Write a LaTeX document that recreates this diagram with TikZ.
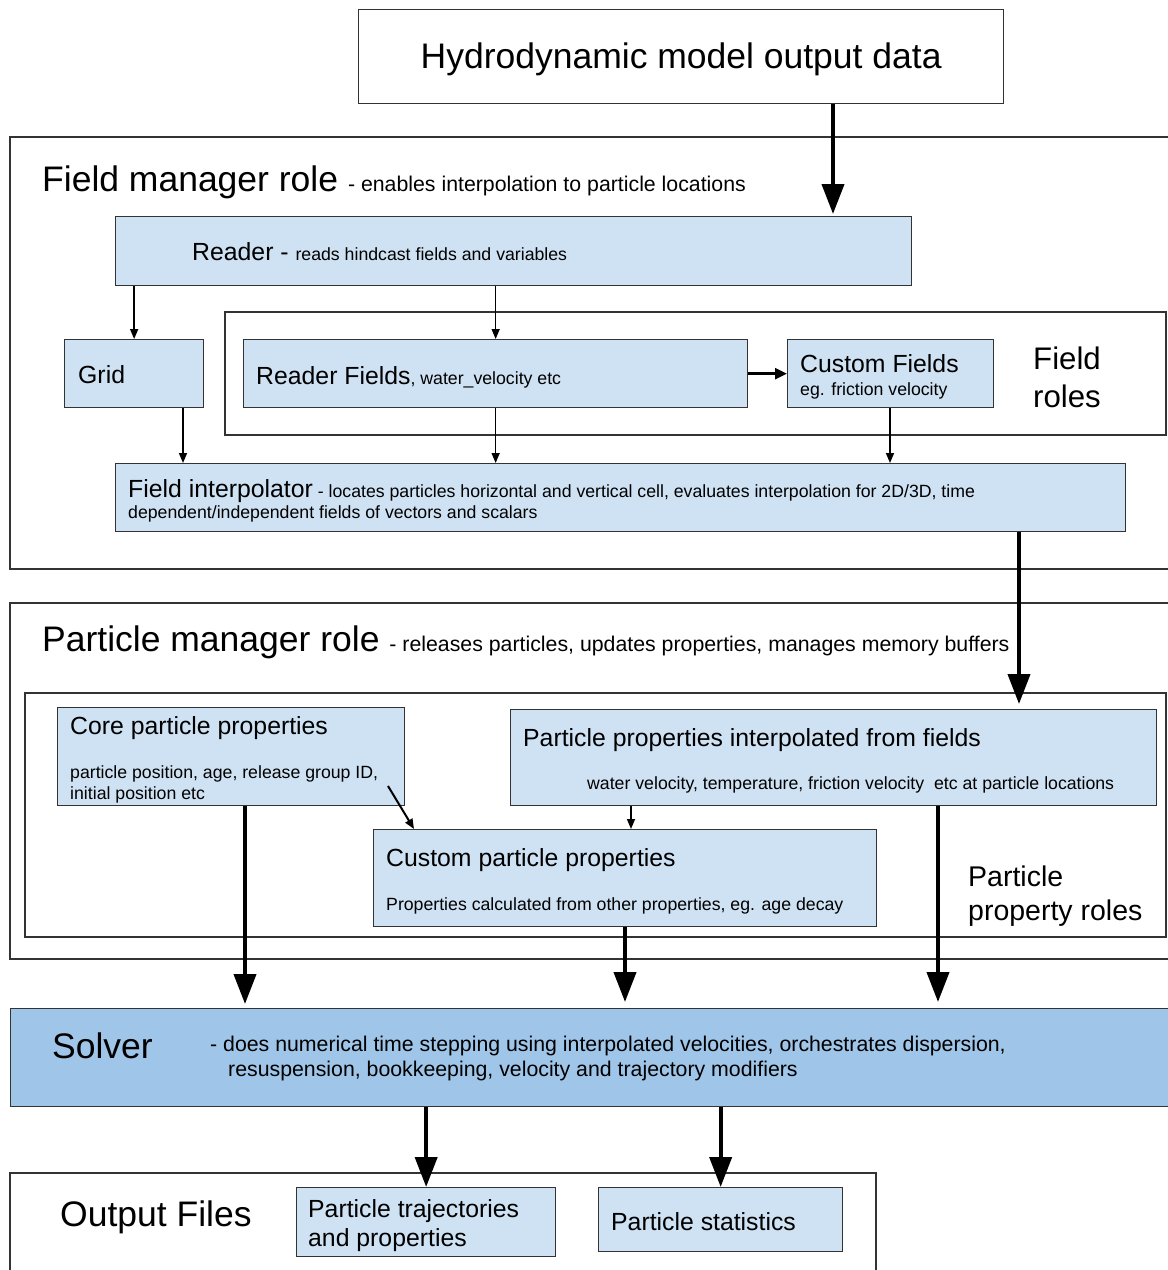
\documentclass[tikz,border=0pt]{standalone}
\usepackage{fontspec}
\setmainfont{Liberation Sans}
\usetikzlibrary{arrows.meta}

\definecolor{boxblue}{HTML}{CFE2F3}
\definecolor{solverblue}{HTML}{9FC5E8}
\definecolor{edgegray}{HTML}{333333}

\newcommand{\fbig}{\fontsize{35.5}{40}\selectfont}
\newcommand{\froles}{\fontsize{31.2}{36}\selectfont}
\newcommand{\fprop}{\fontsize{28.5}{33}\selectfont}
\newcommand{\fmid}{\fontsize{24.8}{29}\selectfont}
\newcommand{\fsub}{\fontsize{21.3}{25}\selectfont}
\newcommand{\ftiny}{\fontsize{17.7}{21}\selectfont}

\tikzset{
  box/.style={draw=edgegray, line width=1.3pt, fill=boxblue, anchor=north west, inner sep=0pt},
  frame/.style={draw=edgegray, line width=1.3pt},
  txt/.style={anchor=base west, inner sep=0pt},
  heavy/.style={line width=4pt, -{Triangle[length=30pt,width=22pt]}},
  light/.style={line width=1.5pt, -{Triangle[length=10pt,width=8pt]}},
  medium/.style={line width=2.5pt, -{Triangle[length=12pt,width=11pt]}},
}

\begin{document}
\begin{tikzpicture}[x=1pt,y=-1pt]
\useasboundingbox (0,0) rectangle (1168,1270);

% Outer role frames
\draw[frame] (1168,137) -- (10,137) -- (10,569) -- (1168,569);
\draw[frame] (225,312) rectangle (1166,435);
\draw[frame] (1168,603) -- (10,603) -- (10,959) -- (1168,959);
\draw[frame] (25,693) rectangle (1166,937);
\draw[frame] (10,1270) -- (10,1173) -- (876,1173) -- (876,1270);

% Input data
\node[box, fill=white, minimum width=645pt, minimum height=94pt] (hydro) at (358,9) {};
\node[font=\fbig, yshift=-3pt] (hydrotxt) at (hydro.center) {Hydrodynamic model output data};

% Field manager
\node[txt] (fmtitle) at (42,191) {\fbig Field manager role {\fsub - enables interpolation to particle locations}};
\node[box, minimum width=796pt, minimum height=69pt] (reader) at (115,216) {};
\node[txt] (readertxt) at (192,260) {\fmid Reader - {\ftiny reads hindcast fields and variables}};
\node[box, minimum width=139pt, minimum height=68pt] (grid) at (64,339) {};
\node[txt] (gridtxt) at (78,383) {\fmid Grid};
\node[box, minimum width=504pt, minimum height=68pt] (rfields) at (243,339) {};
\node[txt] (rfieldstxt) at (256,384) {\fmid Reader Fields{\ftiny , water\_velocity etc}};
\node[box, minimum width=206pt, minimum height=68pt] (cfields) at (787,339) {};
\node[txt] (cfieldstxt) at (800,372) {\fmid Custom Fields};
\node[txt] (cfieldssub) at (800,395) {\ftiny eg. friction velocity};
\node[txt] (froles1) at (1033,369) {\froles Field};
\node[txt] (froles2) at (1033,407) {\froles roles};
\node[box, minimum width=1010pt, minimum height=68pt] (interp) at (115,463) {};
\node[txt] (interptxt) at (128,497) {\fmid Field interpolator{\ftiny\ - locates particles horizontal and vertical cell, evaluates interpolation for 2D/3D, time}};
\node[txt] (interpsub) at (128,518) {\ftiny dependent/independent fields of vectors and scalars};

% Particle manager
\node[txt] (pmtitle) at (42,651) {\fbig Particle manager role {\fsub - releases particles, updates properties, manages memory buffers}};
\node[box, minimum width=347pt, minimum height=98pt] (core) at (57,707) {};
\node[txt] (coretxt) at (70,734) {\fmid Core particle properties};
\node[txt] (coresub1) at (70,778) {\ftiny particle position, age, release group ID,};
\node[txt] (coresub2) at (70,799) {\ftiny initial position etc};
\node[box, minimum width=646pt, minimum height=96pt] (ppi) at (510,709) {};
\node[txt] (ppitxt) at (523,746) {\fmid Particle properties interpolated from fields};
\node[txt] (ppisub) at (587,789) {\ftiny water velocity, temperature, friction velocity\ \ etc at particle locations};
\node[box, minimum width=503pt, minimum height=97pt] (cpp) at (373,829) {};
\node[txt] (cpptxt) at (386,866) {\fmid Custom particle properties};
\node[txt] (cppsub) at (386,910) {\ftiny Properties calculated from other properties, eg. age decay};
\node[txt] (proles1) at (968,886) {\fprop Particle};
\node[txt] (proles2) at (968,920) {\fprop property roles};

% Solver
\node[box, fill=solverblue, minimum width=1158pt, minimum height=98pt] (solver) at (10,1008) {};
\node[txt] (solvertxt) at (52,1058) {\fbig Solver};
\node[txt] (solversub1) at (210,1051) {\fsub - does numerical time stepping using interpolated velocities, orchestrates dispersion,};
\node[txt] (solversub2) at (228,1076) {\fsub resuspension, bookkeeping, velocity and trajectory modifiers};

% Output files
\node[txt] (outtxt) at (60,1226) {\fbig Output Files};
\node[box, minimum width=259pt, minimum height=69pt] (traj) at (296,1187) {};
\node[txt] (trajtxt1) at (308,1217) {\fmid Particle trajectories};
\node[txt] (trajtxt2) at (308,1246) {\fmid and properties};
\node[box, minimum width=244pt, minimum height=64pt] (stats) at (598,1187) {};
\node[txt] (statstxt) at (611,1230) {\fmid Particle statistics};

% Arrow columns
\coordinate (c1) at (833,0);
\coordinate (c2) at (183,0);
\coordinate (c3) at (1019,0);
\coordinate (c4) at (245,0);
\coordinate (c5) at (625,0);
\coordinate (c6) at (938,0);
\coordinate (c7) at (631,0);
\coordinate (c8) at (890,0);
\coordinate (corefrom) at (388,786);
\coordinate (cppto) at (414,829);

% Connectors
\draw[heavy, shorten >=2pt] (hydro.south -| c1) -- (reader.north -| c1);
\draw[light] (reader.south -| grid.north) -- (grid.north);
\draw[light] (reader.south -| rfields.north) -- (rfields.north);
\draw[medium] (rfields.east) -- (cfields.west);
\draw[light] (grid.south -| c2) -- (interp.north -| c2);
\draw[light] (rfields.south) -- (interp.north -| rfields.south);
\draw[light] (cfields.south -| c8) -- (interp.north -| c8);
\draw[heavy, shorten >=5pt] (interp.south -| c3) -- (ppi.north -| c3);
\draw[light, line width=2pt] (corefrom) -- (cppto);
\draw[light] (ppi.south -| c7) -- (cpp.north -| c7);
\draw[heavy, shorten >=4pt] (core.south -| c4) -- (solver.north -| c4);
\draw[heavy, shorten >=6pt] (cpp.south -| c5) -- (solver.north -| c5);
\draw[heavy, shorten >=6pt] (ppi.south -| c6) -- (solver.north -| c6);
\draw[heavy] (solver.south -| traj.north) -- (traj.north);
\draw[heavy] (solver.south -| stats.north) -- (stats.north);

\end{tikzpicture}
\end{document}
